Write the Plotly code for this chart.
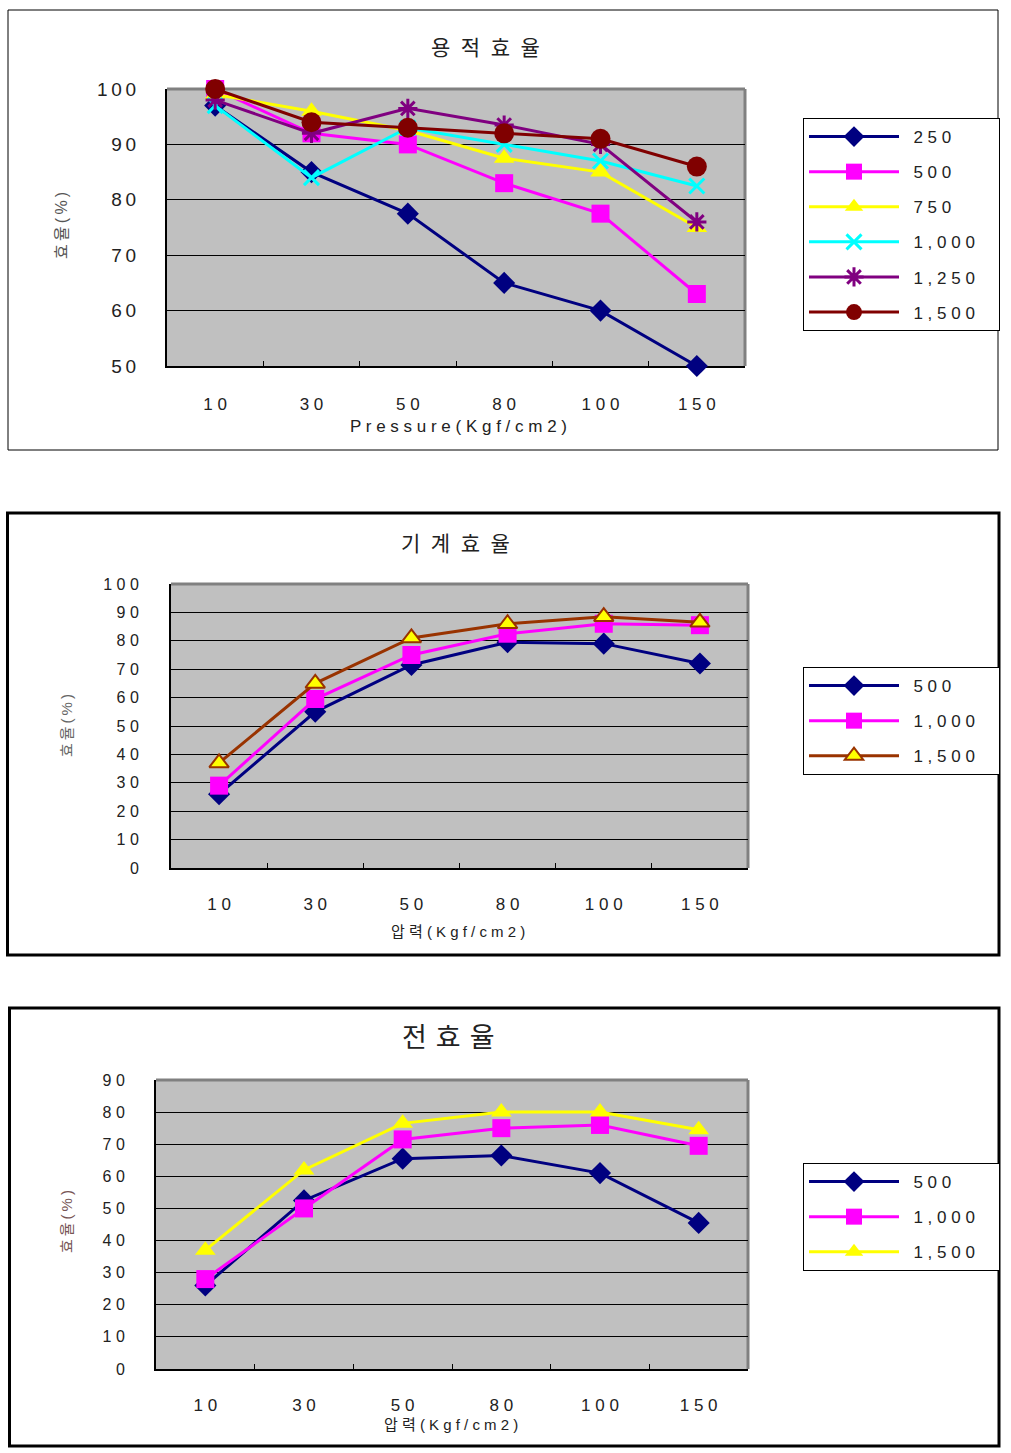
import plotly.graph_objects as go

# ---------------- data ----------------
pressure = ["10", "30", "50", "80", "100", "150"]

# Chart 1: 용적효율 (volumetric efficiency)
vol_names = ["250", "500", "750", "1,000", "1,250", "1,500"]
vol_250 = [97, 85, 77.5, 65, 60, 50]
vol_500 = [100, 92, 90, 83, 77.5, 63]
vol_750 = [99, 96, 92.5, 87.5, 85, 75]
vol_1000 = [97, 84, 93, 90, 87, 82.5]
vol_1250 = [98, 92, 96.5, 93.5, 90, 76]
vol_1500 = [100, 94, 93, 92, 91, 86]

# Chart 2: 기계효율 (mechanical efficiency)
mech_names = ["500", "1,000", "1,500"]
mech_500 = [26, 55, 71.5, 79.5, 79, 72]
mech_1000 = [29, 59.5, 75, 82.5, 86, 85.5]
mech_1500 = [37, 65, 81, 86, 88.5, 86.5]

# Chart 3: 전효율 (total efficiency)
tot_names = ["500", "1,000", "1,500"]
tot_500 = [26, 52.5, 65.5, 66.5, 61, 45.5]
tot_1000 = [28, 50, 71.5, 75, 76, 69.5]
tot_1500 = [37, 62, 76.5, 80, 80, 74.5]

# ---------------- helpers ----------------
W, H = 1011, 1453
FONT = "Liberation Sans, Noto Sans CJK KR, sans-serif"
TXT = "#222222"
NB = "\u00a0"


def sp(s, sep=" "):
    return sep.join(list(s))


def px(x):
    return x / W


def py(y):
    return 1 - y / H


STY = {
    "navy_d": dict(line=dict(color="#000080", width=3),
                   marker=dict(symbol="diamond", size=17, color="#000080")),
    "mag_s": dict(line=dict(color="#FF00FF", width=3),
                  marker=dict(symbol="square", size=18, color="#FF00FF")),
    "yel_t": dict(line=dict(color="#FFFF00", width=3),
                  marker=dict(symbol="triangle-up", size=18, color="#FFFF00")),
    "cyan_x": dict(line=dict(color="#00FFFF", width=3),
                   marker=dict(symbol="x-thin", size=15, color="#00FFFF",
                               line=dict(color="#00FFFF", width=3))),
    "pur_a": dict(line=dict(color="#800080", width=3),
                  marker=dict(symbol="asterisk", size=16, color="#800080",
                              line=dict(color="#800080", width=3))),
    "red_c": dict(line=dict(color="#800000", width=3),
                  marker=dict(symbol="circle", size=20, color="#800000")),
    "brn_t": dict(line=dict(color="#993300", width=3),
                  marker=dict(symbol="triangle-up", size=17, color="#FFFF00",
                              line=dict(color="#993300", width=2))),
}

fig = go.Figure()


def add(xa, ya, leg, name, vals, style):
    st = STY[style]
    fig.add_trace(go.Scatter(
        x=pressure, y=vals, name=NB * 2 + sp(name) + NB * 4, mode="lines+markers",
        line=st["line"], marker=st["marker"], xaxis=xa, yaxis=ya,
        legend=leg, legendgroup=leg + name, cliponaxis=False,
    ))


for n, v, s in zip(vol_names, [vol_250, vol_500, vol_750, vol_1000, vol_1250, vol_1500],
                   ["navy_d", "mag_s", "yel_t", "cyan_x", "pur_a", "red_c"]):
    add("x", "y", "legend", n, v, s)
for n, v, s in zip(mech_names, [mech_500, mech_1000, mech_1500], ["navy_d", "mag_s", "brn_t"]):
    add("x2", "y2", "legend2", n, v, s)
for n, v, s in zip(tot_names, [tot_500, tot_1000, tot_1500], ["navy_d", "mag_s", "yel_t"]):
    add("x3", "y3", "legend3", n, v, s)

# plot areas (pixel boxes)
boxes = {
    1: dict(x0=167, x1=745, y0=89, y1=366, rng=[50, 100], spaced=False, xs=22, ys=25),
    2: dict(x0=171, x1=748, y0=584, y1=868, rng=[0, 100], spaced=True, xs=20, ys=27),
    3: dict(x0=156, x1=748, y0=1080, y1=1369, rng=[0, 90], spaced=True, xs=20, ys=26),
}

layout = dict(
    width=W, height=H, margin=dict(l=0, r=0, t=0, b=0, pad=0, autoexpand=False),
    paper_bgcolor="white", plot_bgcolor="#C0C0C0",
    font=dict(family=FONT, color=TXT), showlegend=True,
)

for i, b in boxes.items():
    sfx = "" if i == 1 else str(i)
    yt = list(range(b["rng"][0], b["rng"][1] + 1, 10))
    layout["xaxis" + sfx] = dict(
        domain=[px(b["x0"]), px(b["x1"])], anchor="y" + sfx, type="category",
        tickvals=pressure, ticktext=[sp(p) for p in pressure],
        showgrid=False, ticks="inside", tickson="boundaries", ticklen=5,
        tickcolor="black", tickwidth=1, showline=True, linecolor="black", linewidth=2,
        layer="below traces", tickfont=dict(size=17, color=TXT), ticklabelstandoff=b["xs"],
        fixedrange=True, range=[-0.5, 5.5], automargin=False,
    )
    layout["yaxis" + sfx] = dict(
        domain=[py(b["y1"]), py(b["y0"])], anchor="x" + sfx, range=b["rng"],
        tickvals=yt,
        ticktext=[sp(str(t)) if b["spaced"] else sp(str(t), "\u2009") for t in yt],
        showgrid=False, zeroline=False,
        minor=dict(tickvals=yt[1:-1], showgrid=True, gridcolor="black", gridwidth=1, ticks=""),
        showline=True, linecolor="black", linewidth=2, ticks="",
        layer="below traces", tickfont=dict(size=19 if not b["spaced"] else 16, color=TXT),
        ticklabelstandoff=b["ys"], fixedrange=True, automargin=False,
    )

# legends
leg_common = dict(bgcolor="white", bordercolor="black", borderwidth=1,
                  font=dict(size=17, color=TXT), xanchor="left", yanchor="top",
                  itemwidth=90, tracegroupgap=10,
                  itemclick=False, itemdoubleclick=False)
layout["legend"] = dict(x=px(803), y=py(118), **leg_common)
layout["legend2"] = dict(x=px(803), y=py(667), **leg_common)
layout["legend3"] = dict(x=px(803), y=py(1163), **leg_common)

fig.update_layout(**layout)

# panel borders
shapes = [
    dict(type="rect", xref="paper", yref="paper", x0=px(8), x1=px(998), y0=py(450), y1=py(10),
         line=dict(color="black", width=1)),
    dict(type="rect", xref="paper", yref="paper", x0=px(7.5), x1=px(999), y0=py(955), y1=py(513),
         line=dict(color="black", width=3)),
    dict(type="rect", xref="paper", yref="paper", x0=px(9.5), x1=px(999), y0=py(1446), y1=py(1008),
         line=dict(color="black", width=3)),
]
# gray top/right plot-area borders
for i in boxes:
    sfx = "" if i == 1 else str(i)
    xr, yr = "x" + sfx + " domain", "y" + sfx + " domain"
    shapes.append(dict(type="line", xref=xr, yref=yr, x0=0, x1=1, y0=1, y1=1,
                       line=dict(color="#808080", width=3), layer="below"))
    shapes.append(dict(type="line", xref=xr, yref=yr, x0=1, x1=1, y0=0, y1=1,
                       line=dict(color="#808080", width=3), layer="below"))
fig.update_layout(shapes=shapes)

# titles and axis titles
ann = []


def text(x, y, s, size, angle=0, color=TXT):
    ann.append(dict(x=px(x), y=py(y), xref="paper", yref="paper", text=s, showarrow=False,
                    font=dict(size=size, color=color, family=FONT), textangle=angle,
                    xanchor="center", yanchor="middle"))


text(485, 48, sp("용적효율", "\u2002"), 21)
text(455, 544, sp("기계효율", "\u2002"), 21)
text(448, 1038, sp("전효율", "\u2004"), 27)
text(458, 426, sp("Pressure(Kgf/cm2)"), 17)
text(458, 931, sp("압력(Kgf/cm2)"), 15)
text(451, 1424, sp("압력(Kgf/cm2)"), 15)
text(61, 226, sp("효율(%)", "\u2009"), 16, -90, "#555555")
text(66, 726, sp("효율(%)", "\u2009"), 15, -90, "#666666")
text(66, 1222, sp("효율(%)", "\u2009"), 15, -90, "#775555")
fig.update_layout(annotations=ann)

fig.write_html("out.html", config={"displayModeBar": False},
               post_script="document.body.style.margin='0';")
